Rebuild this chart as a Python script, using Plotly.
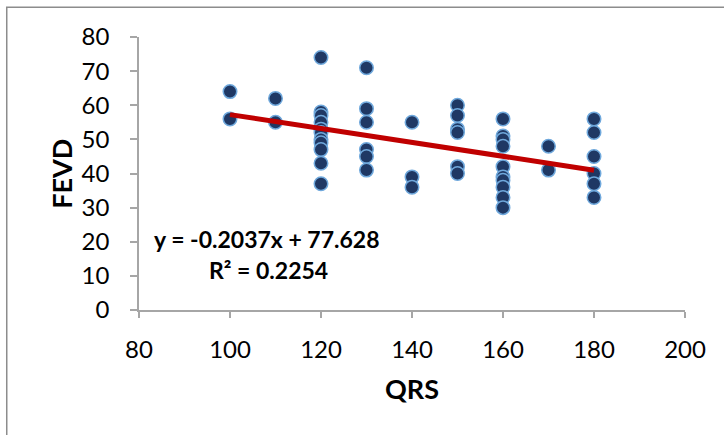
import plotly.graph_objects as go

# ---- data ----
qrs = ([100] * 2 + [110] * 2 + [120] * 11 + [130] * 6 + [140] * 3 +
       [150] * 6 + [160] * 10 + [170] * 2 + [180] * 6)
fevd = [64, 56,
        62, 55,
        74, 58, 57, 55, 53, 52, 50, 49, 47, 43, 37,
        71, 59, 55, 47, 45, 41,
        55, 39, 36,
        60, 57, 53, 52, 42, 40,
        56, 51, 50, 48, 42, 39, 38, 36, 33, 30,
        48, 41,
        56, 52, 45, 40, 37, 33]
slope = -0.2037
intercept = 77.628
r2 = 0.2254
trend_x = [min(qrs), max(qrs)]
trend_y = [slope * v + intercept for v in trend_x]
x_ticks = [80, 100, 120, 140, 160, 180, 200]
y_ticks = [0, 10, 20, 30, 40, 50, 60, 70, 80]
x_title = "QRS"
y_title = "FEVD"

W, H = 724, 435
L, R, T, B = 138.5, 38.5, 36.7, 125

FONT = "Lato, 'Noto Sans', sans-serif"
AX = "#a6a6a6"

fig = go.Figure()
fig.add_trace(go.Scatter(
    x=qrs, y=fevd, mode="markers",
    marker=dict(size=13.5, color="#1f3864", line=dict(color="#6fa8dc", width=1.5)),
    showlegend=False, hoverinfo="x+y"))
fig.add_trace(go.Scatter(
    x=trend_x, y=trend_y, mode="lines",
    line=dict(color="#c00000", width=5), showlegend=False))

pw = W - L - R
ph = H - T - B


def px(xp):
    return (xp - L) / pw


def py(yp):
    return (H - B - yp) / ph


fig.update_layout(
    width=W, height=H,
    margin=dict(l=L, r=R, t=T, b=B, pad=0),
    plot_bgcolor="white", paper_bgcolor="white",
    font=dict(family=FONT, color="black", size=24),
    xaxis=dict(range=[80, 200], tickvals=x_ticks, showgrid=False, zeroline=False,
               showline=True, linecolor=AX, linewidth=1.5,
               ticks="outside", ticklen=6, tickcolor=AX, tickwidth=1.5,
               ticklabelstandoff=11,
               tickfont=dict(size=24, family=FONT)),
    yaxis=dict(range=[0, 80], tickvals=y_ticks, showgrid=False, zeroline=False,
               showline=True, linecolor=AX, linewidth=1.5,
               ticks="outside", ticklen=7, tickcolor=AX, tickwidth=1.5,
               ticklabelstandoff=16,
               tickfont=dict(size=24, family=FONT)),
    shapes=[dict(type="rect", xref="paper", yref="paper",
                 x0=px(6), x1=1.3, y0=-0.6, y1=py(7),
                 line=dict(color="#8c8c8c", width=1.5), layer="below")],
    annotations=[
        dict(xref="paper", yref="paper", x=px(267), y=py(239),
             text=f"<b>y = {slope}x + {intercept}</b>", showarrow=False,
             font=dict(size=23, family=FONT), xanchor="center", yanchor="middle"),
        dict(xref="paper", yref="paper", x=px(268), y=py(270),
             text=f"<b>R² = {r2}</b>", showarrow=False,
             font=dict(size=23, family=FONT), xanchor="center", yanchor="middle"),
        dict(xref="paper", yref="paper", x=px(412), y=py(389),
             text=f"<b>{x_title}</b>", showarrow=False,
             font=dict(size=27, family=FONT), xanchor="center", yanchor="middle"),
        dict(xref="paper", yref="paper", x=px(61), y=py(174),
             text=f"<b>{y_title}</b>", showarrow=False, textangle=-90,
             font=dict(size=27, family=FONT), xanchor="center", yanchor="middle"),
    ],
)
fig.write_html("out.html")
